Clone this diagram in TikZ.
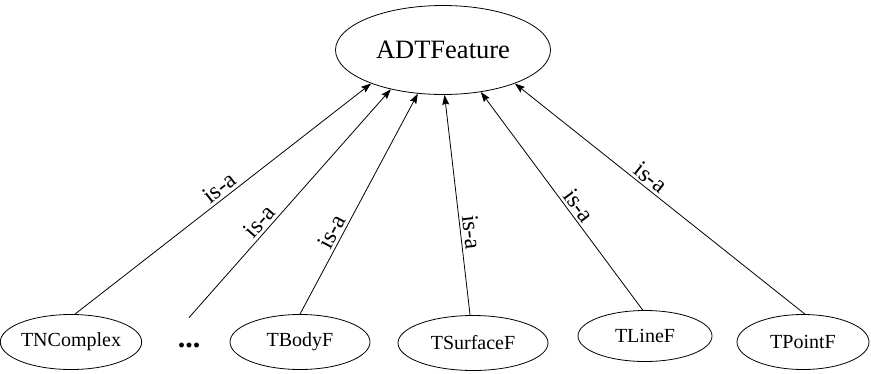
\documentclass[tikz,border=0pt]{standalone}
\usepackage{fontspec}
\setmainfont{Liberation Serif}
\usetikzlibrary{shapes.geometric,arrows.meta}
\begin{document}
\begin{tikzpicture}[x=1pt,y=-1pt,line width=0.8pt,
    cls/.style={draw,ellipse,inner sep=0pt,minimum height=55pt,font=\fontsize{20}{22}\selectfont},
    isa/.style={-{Stealth[length=10pt,width=7pt,inset=1.5pt]}},
    lbl/.style={sloped,above,inner sep=2.5pt,font=\fontsize{24}{26}\selectfont}]
  \useasboundingbox (0,0) rectangle (871,373);

  \node[draw,ellipse,minimum width=215pt,minimum height=89pt,inner sep=0pt,
        font=\fontsize{26.5}{30}\selectfont] (adt) at (443,50) {ADTFeature};

  \node[cls,minimum width=138pt] (tnc) at (71,342) {TNComplex};
  \node[minimum height=54pt,inner sep=0pt,font=\fontsize{30}{30}\selectfont\bfseries] (dots) at (189,345) {...};
  \node[cls,minimum width=140pt] (tbody) at (300,342) {TBodyF};
  \node[cls,minimum width=150pt] (tsurf) at (473,343) {TSurfaceF};
  \node[cls,minimum width=134pt,minimum height=51pt] (tline) at (645,336) {TLineF};
  \node[cls,minimum width=132pt] (tpoint) at (803,342) {TPointF};

  \draw[isa] (tnc.82) -- node[lbl,pos=0.51] {is-a} (adt.205);
  \draw[isa] (dots.north) -- node[lbl,pos=0.39] {is-a} (adt.217);
  \draw[isa] (tbody.north) -- node[lbl,pos=0.35] {is-a} (adt.240);
  \draw[isa] (tsurf.96) -- node[lbl,pos=0.37] {is-a} (adt.272);
  \draw[isa] (tline.95) -- node[lbl,pos=0.45] {is-a} (adt.312);
  \draw[isa] (tpoint.86) -- node[lbl,pos=0.555] {is-a} (adt.335);
\end{tikzpicture}
\end{document}
